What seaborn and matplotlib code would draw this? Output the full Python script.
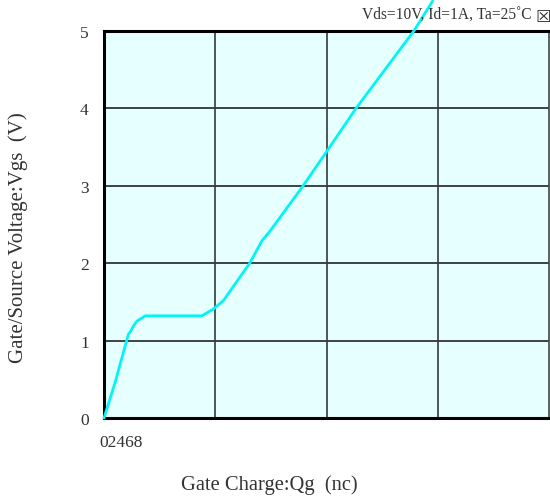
import matplotlib
matplotlib.use("Agg")
import matplotlib.pyplot as plt
import seaborn as sns
import pandas as pd

# Data
qg = [0.0, 0.20, 0.44, 0.47, 0.53, 0.59, 0.74, 1.76, 1.97, 2.15, 2.62, 2.84, 2.99, 3.56, 4.01, 4.52, 5.57, 5.91]
vgs = [0.0, 0.46, 1.085, 1.11, 1.19, 1.25, 1.32, 1.32, 1.41, 1.52, 2.00, 2.29, 2.42, 2.98, 3.45, 3.99, 5.00, 5.39]
x_tick_text = "02468"
y_ticks = [0, 1, 2, 3, 4, 5]
x_grid = [2, 4, 6]
x_label = "Gate Charge:Qg  (nc)"
y_label = "Gate/Source Voltage:Vgs  (V)"
note = "Vds=10V, Id=1A, Ta=25˚C"

df = pd.DataFrame({"qg": qg, "vgs": vgs})

sns.set_style("white")
serif = ["Liberation Serif", "DejaVu Sans"]
plt.rcParams["font.family"] = serif

fig = plt.figure(figsize=(5.5, 5.02), dpi=100)
ax = fig.add_axes([104 / 550, 1 - 419 / 502, 445 / 550, 387 / 502])
ax.set_facecolor("#e6ffff")

sns.lineplot(data=df, x="qg", y="vgs", ax=ax, color="#00f5f5", linewidth=2.0,
             sort=False, estimator=None, clip_on=False, zorder=5)

ax.set_xlim(0, 8)
ax.set_ylim(0, 5)
ax.set_yticks(y_ticks)
ax.set_yticklabels([str(v) for v in y_ticks], fontsize=12.5, color="#333333")
ax.set_xticks([])
ax.tick_params(axis="y", length=0, pad=11)
for y in y_ticks[1:5]:
    ax.axhline(y, color="#222222", linewidth=1.2, zorder=2)
for x in x_grid:
    ax.axvline(x, color="#383838", linewidth=1.2, zorder=2)

for side in ["left", "top", "bottom"]:
    ax.spines[side].set_linewidth(2.2)
    ax.spines[side].set_color("black")
ax.spines["right"].set_linewidth(1.2)
ax.spines["right"].set_color("#444444")

ax.set_xlabel("")
ax.set_ylabel("")
fig.text(99 / 550, 1 - 443 / 502, x_tick_text, fontsize=12.5, color="#333333",
         ha="left", va="center")
fig.text(269 / 550, 1 - 485 / 502, x_label, fontsize=14.8, color="#333333",
         ha="center", va="center")
fig.text(18 / 550, 1 - 238 / 502, y_label, fontsize=15, color="#333333",
         ha="center", va="center", rotation=90)
fig.text(362 / 550, 1 - 16 / 502, note, fontsize=11.2, color="#333333",
         ha="left", va="center")
fig.text(535 / 550, 1 - 17 / 502, "☒", fontsize=12.5, color="#333333",
         ha="left", va="center", family=["DejaVu Sans"])

fig.savefig("out.png", dpi=100)
